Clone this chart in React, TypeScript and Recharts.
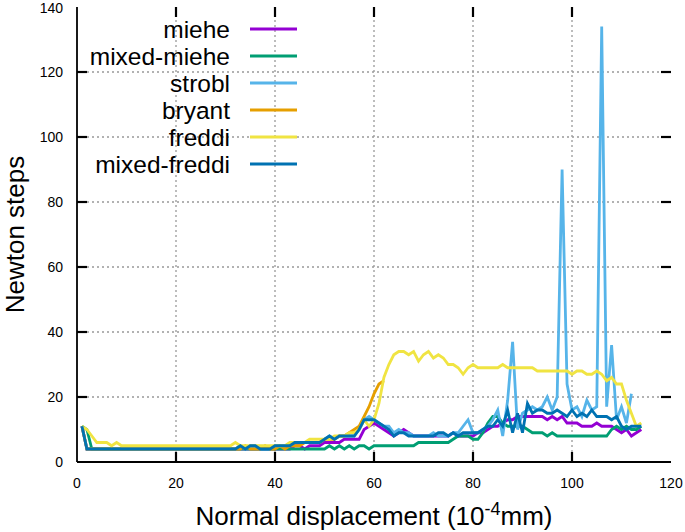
import React from "react";
import { LineChart, Line, XAxis, YAxis, ReferenceLine, Legend } from "recharts";

const FONT = "'Liberation Sans', Arial, sans-serif";

// Newton steps, one value per unit of normal displacement (x = 1, 2, 3, ...)
const miehe = [
  11, 4, 4, 4, 4, 4, 4, 4, 4, 4,
  4, 4, 4, 4, 4, 4, 4, 4, 4, 4,
  4, 4, 4, 4, 4, 4, 4, 4, 4, 4,
  4, 4, 4, 4, 4, 4, 4, 4, 4, 4,
  4, 4, 4, 5, 5, 4, 5, 5, 5, 6,
  6, 6, 6, 7, 7, 7, 7, 10, 11, 12,
  11, 10, 9, 8, 9, 10, 9, 8, 8, 8,
  8, 8, 8, 8, 8, 9, 8, 8, 8, 8,
  9, 9, 10, 11, 11, 12, 13, 13, 14, 14,
  14, 14, 14, 14, 13, 14, 13, 14, 12, 12,
  12, 11, 11, 11, 12, 11, 11, 11, 10, 9,
  10, 8, 9, 10,
];

const mixedMiehe = [
  11, 10, 4, 4, 4, 4, 4, 4, 4, 4,
  4, 4, 4, 4, 4, 4, 4, 4, 4, 4,
  4, 4, 4, 4, 4, 4, 4, 4, 4, 4,
  4, 4, 4, 4, 4, 4, 4, 4, 4, 4,
  4, 4, 4, 4, 4, 4, 4, 4, 4, 4,
  5, 4, 5, 4, 5, 4, 5, 5, 4, 5,
  5, 5, 5, 5, 5, 5, 5, 5, 6, 6,
  6, 6, 6, 6, 6, 7, 8, 8, 8, 7,
  7, 9, 12, 14, 14, 12, 11, 11, 11, 11,
  10, 9, 9, 9, 8, 9, 8, 8, 8, 8,
  8, 8, 8, 8, 8, 8, 8, 10, 11, 10,
  11, 10, 10, 11,
];

const strobl = [
  11, 4, 4, 4, 4, 4, 4, 4, 4, 4,
  4, 4, 4, 4, 4, 4, 4, 4, 4, 4,
  4, 4, 4, 4, 4, 4, 4, 4, 4, 4,
  4, 4, 5, 4, 5, 5, 4, 4, 4, 5,
  5, 5, 5, 6, 6, 6, 6, 6, 6, 7,
  8, 7, 8, 8, 8, 8, 10, 13, 14, 13,
  12, 11, 11, 9, 10, 9, 9, 8, 8, 8,
  8, 9, 8, 8, 8, 9, 9, 11, 13, 9,
  9, 10, 11, 13, 16, 8, 19, 37, 10, 15,
  16, 17, 16, 17, 20, 16, 20, 90, 24, 16,
  17, 14, 19, 16, 17, 134, 17, 36, 13, 17,
  12, 21,
];

const bryant = [
  11, 4, 4, 4, 4, 4, 4, 4, 4, 4,
  4, 4, 4, 4, 4, 4, 4, 4, 4, 4,
  4, 4, 4, 4, 4, 4, 4, 4, 4, 4,
  4, 4, 4, 5, 4, 4, 4, 5, 4, 4,
  5, 4, 5, 5, 5, 6, 6, 6, 6, 7,
  7, 7, 8, 8, 9, 10, 11, 14, 17, 21,
  24, 25,
];

const freddi = [
  11, 10, 8, 6, 6, 6, 5, 6, 5, 5,
  5, 5, 5, 5, 5, 5, 5, 5, 5, 5,
  5, 5, 5, 5, 5, 5, 5, 5, 5, 5,
  5, 6, 5, 5, 5, 5, 5, 5, 5, 5,
  5, 5, 6, 6, 6, 6, 7, 7, 7, 7,
  7, 8, 8, 8, 9, 9, 10, 13, 11, 13,
  18, 26, 30, 33, 34, 34, 33, 34, 31, 33,
  34, 32, 33, 32, 30, 30, 29, 27, 29, 30,
  29, 29, 29, 29, 29, 30, 29, 29, 29, 29,
  29, 29, 28, 28, 28, 28, 28, 28, 28, 27,
  28, 28, 27, 27, 28, 27, 25, 26, 24, 24,
  19, 15, 11, 12,
];

const mixedFreddi = [
  11, 4, 4, 4, 4, 4, 4, 4, 4, 4,
  4, 4, 4, 4, 4, 4, 4, 4, 4, 4,
  4, 4, 4, 4, 4, 4, 4, 4, 4, 4,
  4, 4, 5, 4, 5, 5, 4, 4, 4, 5,
  5, 5, 5, 6, 6, 6, 6, 6, 6, 7,
  8, 7, 8, 8, 8, 8, 10, 13, 13, 13,
  12, 11, 10, 8, 9, 9, 8, 8, 8, 8,
  8, 8, 9, 9, 8, 9, 8, 9, 9, 9,
  9, 10, 11, 11, 13, 11, 16, 9, 15, 9,
  18, 15, 16, 16, 15, 15, 16, 15, 14, 16,
  14, 15, 14, 16, 14, 14, 14, 13, 14, 11,
  10, 11, 11, 11,
];

const X_MIN = 0;
const X_MAX = 120;
const Y_MIN = 0;
const Y_MAX = 140;
const xTicks = [0, 20, 40, 60, 80, 100, 120];
const yTicks = [0, 20, 40, 60, 80, 100, 120, 140];
const xGrid = [20, 40, 60, 80, 100];
const yGrid = [20, 40, 60, 80, 100, 120];

const series = [
  { key: "miehe", name: "miehe", color: "#9400d3", values: miehe },
  { key: "mixedMiehe", name: "mixed-miehe", color: "#009e73", values: mixedMiehe },
  { key: "strobl", name: "strobl", color: "#56b4e9", values: strobl },
  { key: "bryant", name: "bryant", color: "#e69f00", values: bryant },
  { key: "freddi", name: "freddi", color: "#f0e442", values: freddi },
  { key: "mixedFreddi", name: "mixed-freddi", color: "#0072b2", values: mixedFreddi },
];

const data = miehe.map((_, i) => {
  const row: Record<string, number | undefined> = { x: i + 1 };
  series.forEach((s) => {
    row[s.key] = s.values[i];
  });
  return row;
});

const W = 685;
const H = 532;
const M = { top: 7, right: 14, bottom: 0, left: 0 };
const X_AXIS_H = 70;
const Y_AXIS_W = 77;
const PLOT_W = W - M.left - M.right - Y_AXIS_W;
const PLOT_H = H - M.top - M.bottom - X_AXIS_H;
const TICK_PX = 10;
const LINE_W = 1.8;
// inward tick length expressed in axis units
const TICK_DX = (TICK_PX / PLOT_W) * (X_MAX - X_MIN);
const TICK_DY = (TICK_PX / PLOT_H) * (Y_MAX - Y_MIN);

// gnuplot-style key: text right-aligned, sample line to the right, in series order
function KeyBox() {
  return (
    <svg width={320} height={180} style={{ fontFamily: FONT }}>
      {series.map((s, i) => {
        const y = 29 + i * 27;
        return (
          <g key={s.key}>
            <text x={230} y={y + 8.5} textAnchor="end" fontSize={24.5} fill="#000">
              {s.name}
            </text>
            <line x1={250} x2={297} y1={y} y2={y} stroke={s.color} strokeWidth={2.8} />
          </g>
        );
      })}
    </svg>
  );
}

function XTitle(props: any) {
  const vb = props.viewBox || {};
  const cx = vb.x + vb.width / 2;
  return (
    <text x={cx} y={525} textAnchor="middle" fontSize={26} fill="#000" fontFamily={FONT}>
      <tspan>Normal displacement (10</tspan>
      <tspan dy={-10} fontSize={18}>-4</tspan>
      <tspan dy={10}>mm)</tspan>
    </text>
  );
}

function YTitle(props: any) {
  const vb = props.viewBox || {};
  const cy = vb.y + vb.height / 2;
  return (
    <text
      x={24}
      y={cy}
      transform={`rotate(-90 24 ${cy})`}
      textAnchor="middle"
      fontSize={26}
      fill="#000"
      fontFamily={FONT}
    >
      Newton steps
    </text>
  );
}

export default function App() {
  const frame = { stroke: "#000", strokeWidth: LINE_W };
  const tickStyle = { fontSize: 14, fill: "#000", fontFamily: FONT };
  const gridStyle = { stroke: "#999", strokeWidth: 1.3, strokeDasharray: "2 3" };
  const tickLine = { stroke: "#000", strokeWidth: 2.2 };
  return (
    <div style={{ width: W, height: H, background: "#fff", fontFamily: FONT }}>
      <style>{"body{margin:0}"}</style>
      <LineChart width={W} height={H} data={data} margin={M}>
        {xGrid.map((v) => (
          <ReferenceLine key={`gx${v}`} x={v} {...gridStyle} />
        ))}
        {yGrid.map((v) => (
          <ReferenceLine key={`gy${v}`} y={v} {...gridStyle} />
        ))}
        {xGrid.map((v) => (
          <ReferenceLine
            key={`tb${v}`}
            segment={[{ x: v, y: Y_MIN }, { x: v, y: Y_MIN + TICK_DY }]}
            {...tickLine}
          />
        ))}
        {xGrid.map((v) => (
          <ReferenceLine
            key={`tt${v}`}
            segment={[{ x: v, y: Y_MAX }, { x: v, y: Y_MAX - TICK_DY }]}
            {...tickLine}
          />
        ))}
        {yGrid.map((v) => (
          <ReferenceLine
            key={`tl${v}`}
            segment={[{ x: X_MIN, y: v }, { x: X_MIN + TICK_DX, y: v }]}
            {...tickLine}
          />
        ))}
        {yGrid.map((v) => (
          <ReferenceLine
            key={`tr${v}`}
            segment={[{ x: X_MAX, y: v }, { x: X_MAX - TICK_DX, y: v }]}
            {...tickLine}
          />
        ))}
        <XAxis
          dataKey="x"
          type="number"
          domain={[X_MIN, X_MAX]}
          ticks={xTicks}
          height={X_AXIS_H}
          tickLine={false}
          axisLine={frame}
          tickSize={0}
          tickMargin={16}
          tick={tickStyle}
          label={{ content: <XTitle /> }}
        />
        <XAxis
          xAxisId="top"
          orientation="top"
          dataKey="x"
          type="number"
          domain={[X_MIN, X_MAX]}
          ticks={xTicks}
          height={0}
          tickLine={false}
          tick={false}
          axisLine={frame}
        />
        <YAxis
          type="number"
          domain={[Y_MIN, Y_MAX]}
          ticks={yTicks}
          width={Y_AXIS_W}
          tickLine={false}
          axisLine={frame}
          tickSize={0}
          tickMargin={14}
          tick={tickStyle}
          label={{ content: <YTitle /> }}
        />
        <YAxis
          yAxisId="right"
          orientation="right"
          type="number"
          domain={[Y_MIN, Y_MAX]}
          ticks={yTicks}
          width={0}
          tickLine={false}
          tick={false}
          axisLine={frame}
        />
        <Legend
          layout="vertical"
          align="center"
          verticalAlign="middle"
          wrapperStyle={{ left: 0, top: 0, width: 320, height: 180 }}
          content={<KeyBox />}
        />
        {series.map((s) => (
          <Line
            key={s.key}
            dataKey={s.key}
            name={s.name}
            stroke={s.color}
            strokeWidth={2.8}
            type="linear"
            dot={false}
            isAnimationActive={false}
          />
        ))}
      </LineChart>
    </div>
  );
}
